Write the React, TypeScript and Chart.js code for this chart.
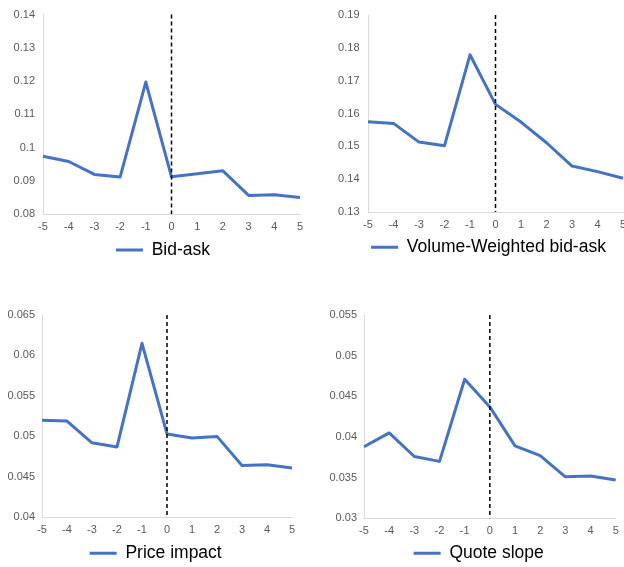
import { useEffect, useRef } from 'react';
import { Chart, registerables } from 'chart.js';

Chart.register(...registerables);

// ---- data ----
const periods = ['-5', '-4', '-3', '-2', '-1', '0', '1', '2', '3', '4', '5'];
const eventPeriod = '0';

const bidAsk = [0.0974, 0.0958, 0.0919, 0.0911, 0.1197, 0.0912, 0.0921, 0.093, 0.0856, 0.0858, 0.085];
const volumeWeightedBidAsk = [0.1575, 0.157, 0.1513, 0.1502, 0.1779, 0.1628, 0.1574, 0.1511, 0.144, 0.1423, 0.1403];
const priceImpact = [0.052, 0.0519, 0.0492, 0.0487, 0.0615, 0.0503, 0.0498, 0.05, 0.0464, 0.0465, 0.0461];
const quoteSlope = [0.0388, 0.0405, 0.0376, 0.037, 0.0471, 0.0437, 0.0389, 0.0377, 0.0351, 0.0352, 0.0347];

const bidAskTicks = [0.08, 0.09, 0.1, 0.11, 0.12, 0.13, 0.14];
const volumeWeightedTicks = [0.13, 0.14, 0.15, 0.16, 0.17, 0.18, 0.19];
const priceImpactTicks = [0.04, 0.045, 0.05, 0.055, 0.06, 0.065];
const quoteSlopeTicks = [0.03, 0.035, 0.04, 0.045, 0.05, 0.055];

const seriesNames = ['Bid-ask', 'Volume-Weighted bid-ask', 'Price impact', 'Quote slope'];

// ---- styling / layout ----
const LINE_COLOR = '#4472C4';
const TICK_COLOR = '#595959';
const AXIS_COLOR = '#d9d9d9';
const FONT = "'Liberation Sans', Arial, sans-serif";
const LEGEND_FONT = 17.5;
const LEGEND_PAD = 10;

type Layout = {
  L: number; T: number;
  plotLeft: number; plotRight: number; plotTop: number; plotBottom: number;
  legendCX: number; legendCY: number; yPad: number;
};

const layouts: Layout[] = [
  { L: 0, T: 0, plotLeft: 43, plotRight: 300, plotTop: 14, plotBottom: 214, legendCX: 163, legendCY: 250, yPad: 8 },
  { L: 312, T: 0, plotLeft: 368, plotRight: 623, plotTop: 10, plotBottom: 212, legendCX: 488.5, legendCY: 247.3, yPad: 8.5 },
  { L: 0, T: 290, plotLeft: 42, plotRight: 292, plotTop: 315, plotBottom: 517.3, legendCX: 155.7, legendCY: 553.3, yPad: 7 },
  { L: 312, T: 290, plotLeft: 364, plotRight: 615.7, plotTop: 315, plotBottom: 518.3, legendCX: 478.7, legendCY: 553.3, yPad: 7 },
];

const panels = [
  { name: seriesNames[0], values: bidAsk, ticks: bidAskTicks },
  { name: seriesNames[1], values: volumeWeightedBidAsk, ticks: volumeWeightedTicks },
  { name: seriesNames[2], values: priceImpact, ticks: priceImpactTicks },
  { name: seriesNames[3], values: quoteSlope, ticks: quoteSlopeTicks },
];

const eventLine = {
  id: 'eventLine',
  afterDatasetsDraw(chart: any) {
    const { ctx, chartArea, scales } = chart;
    const x = scales.x.getPixelForValue(periods.indexOf(eventPeriod));
    ctx.save();
    ctx.beginPath();
    ctx.setLineDash([4, 3]);
    ctx.lineWidth = 1.5;
    ctx.strokeStyle = '#000000';
    ctx.moveTo(x, chartArea.top);
    ctx.lineTo(x, chartArea.bottom);
    ctx.stroke();
    ctx.restore();
  },
};

function Panel({ name, values, ticks, layout }: { name: string; values: number[]; ticks: number[]; layout: Layout }) {
  const ref = useRef<HTMLCanvasElement>(null);
  const { L, T, plotLeft, plotRight, plotTop, plotBottom, legendCX, legendCY, yPad } = layout;
  const yW = plotLeft - L;
  const rW = 2 * legendCX - L - plotRight;
  const q = 4;
  const w = Math.ceil(plotRight + rW - L + q);
  const qReal = w - (plotRight + rW - L);
  const padTop = plotTop - T;
  const xH = legendCY - plotBottom - LEGEND_PAD - LEGEND_FONT / 2;
  const legendH = LEGEND_FONT + LEGEND_PAD + 10;
  const padB = 2;
  const hExact = plotBottom - T + xH + legendH + padB;
  const h = Math.ceil(hExact);
  const padBReal = padB + (h - hExact);

  useEffect(() => {
    if (!ref.current) return;
    const chart = new Chart(ref.current, {
      type: 'line',
      data: {
        labels: periods,
        datasets: [
          {
            label: name,
            data: values,
            borderColor: LINE_COLOR,
            backgroundColor: LINE_COLOR,
            borderWidth: 3,
            pointRadius: 0,
            pointHoverRadius: 0,
            tension: 0,
            borderJoinStyle: 'round',
            pointStyle: 'line',
          },
        ],
      },
      options: {
        responsive: false,
        animation: false,
        layout: { padding: { left: 0, right: qReal, top: padTop, bottom: padBReal } },
        plugins: {
          tooltip: { enabled: false },
          legend: {
            position: 'bottom',
            labels: {
              usePointStyle: true,
              pointStyle: 'line',
              pointStyleWidth: 27,
              padding: LEGEND_PAD,
              color: '#000000',
              font: { family: FONT, size: LEGEND_FONT },
            },
          },
        },
        scales: {
          x: {
            type: 'category',
            offset: false,
            grid: { display: false, drawTicks: false },
            border: { display: true, color: AXIS_COLOR, width: 1 },
            ticks: {
              color: TICK_COLOR,
              font: { family: FONT, size: 11 },
              padding: 6,
              autoSkip: false,
              maxRotation: 0,
            },
            afterFit: (scale: any) => {
              scale.height = xH;
            },
          },
          y: {
            type: 'linear',
            position: 'left',
            min: ticks[0],
            max: ticks[ticks.length - 1],
            grid: { display: false, drawTicks: false },
            border: { display: true, color: AXIS_COLOR, width: 1 },
            afterBuildTicks: (scale: any) => {
              scale.ticks = ticks.map((v) => ({ value: v }));
            },
            ticks: {
              color: TICK_COLOR,
              font: { family: FONT, size: 11 },
              padding: yPad,
              callback: (v: any) => String(Number(Number(v).toFixed(4))),
            },
            afterFit: (scale: any) => {
              scale.width = yW;
            },
          },
          spacer: {
            type: 'linear',
            position: 'right',
            display: true,
            grid: { display: false, drawTicks: false },
            border: { display: false },
            ticks: { display: false },
            afterFit: (scale: any) => {
              scale.width = rW;
            },
          },
        },
      },
      plugins: [eventLine],
    });
    return () => chart.destroy();
  }, []);

  return (
    <canvas
      ref={ref}
      width={w}
      height={h}
      style={{ position: 'absolute', left: L, top: T, width: w, height: h }}
    />
  );
}

export default function App() {
  return (
    <div
      style={{
        position: 'absolute',
        left: 0,
        top: 0,
        width: 624,
        height: 567,
        overflow: 'hidden',
        background: '#ffffff',
      }}
    >
      {panels.map((pn, i) => (
        <Panel key={i} name={pn.name} values={pn.values} ticks={pn.ticks} layout={layouts[i]} />
      ))}
    </div>
  );
}
